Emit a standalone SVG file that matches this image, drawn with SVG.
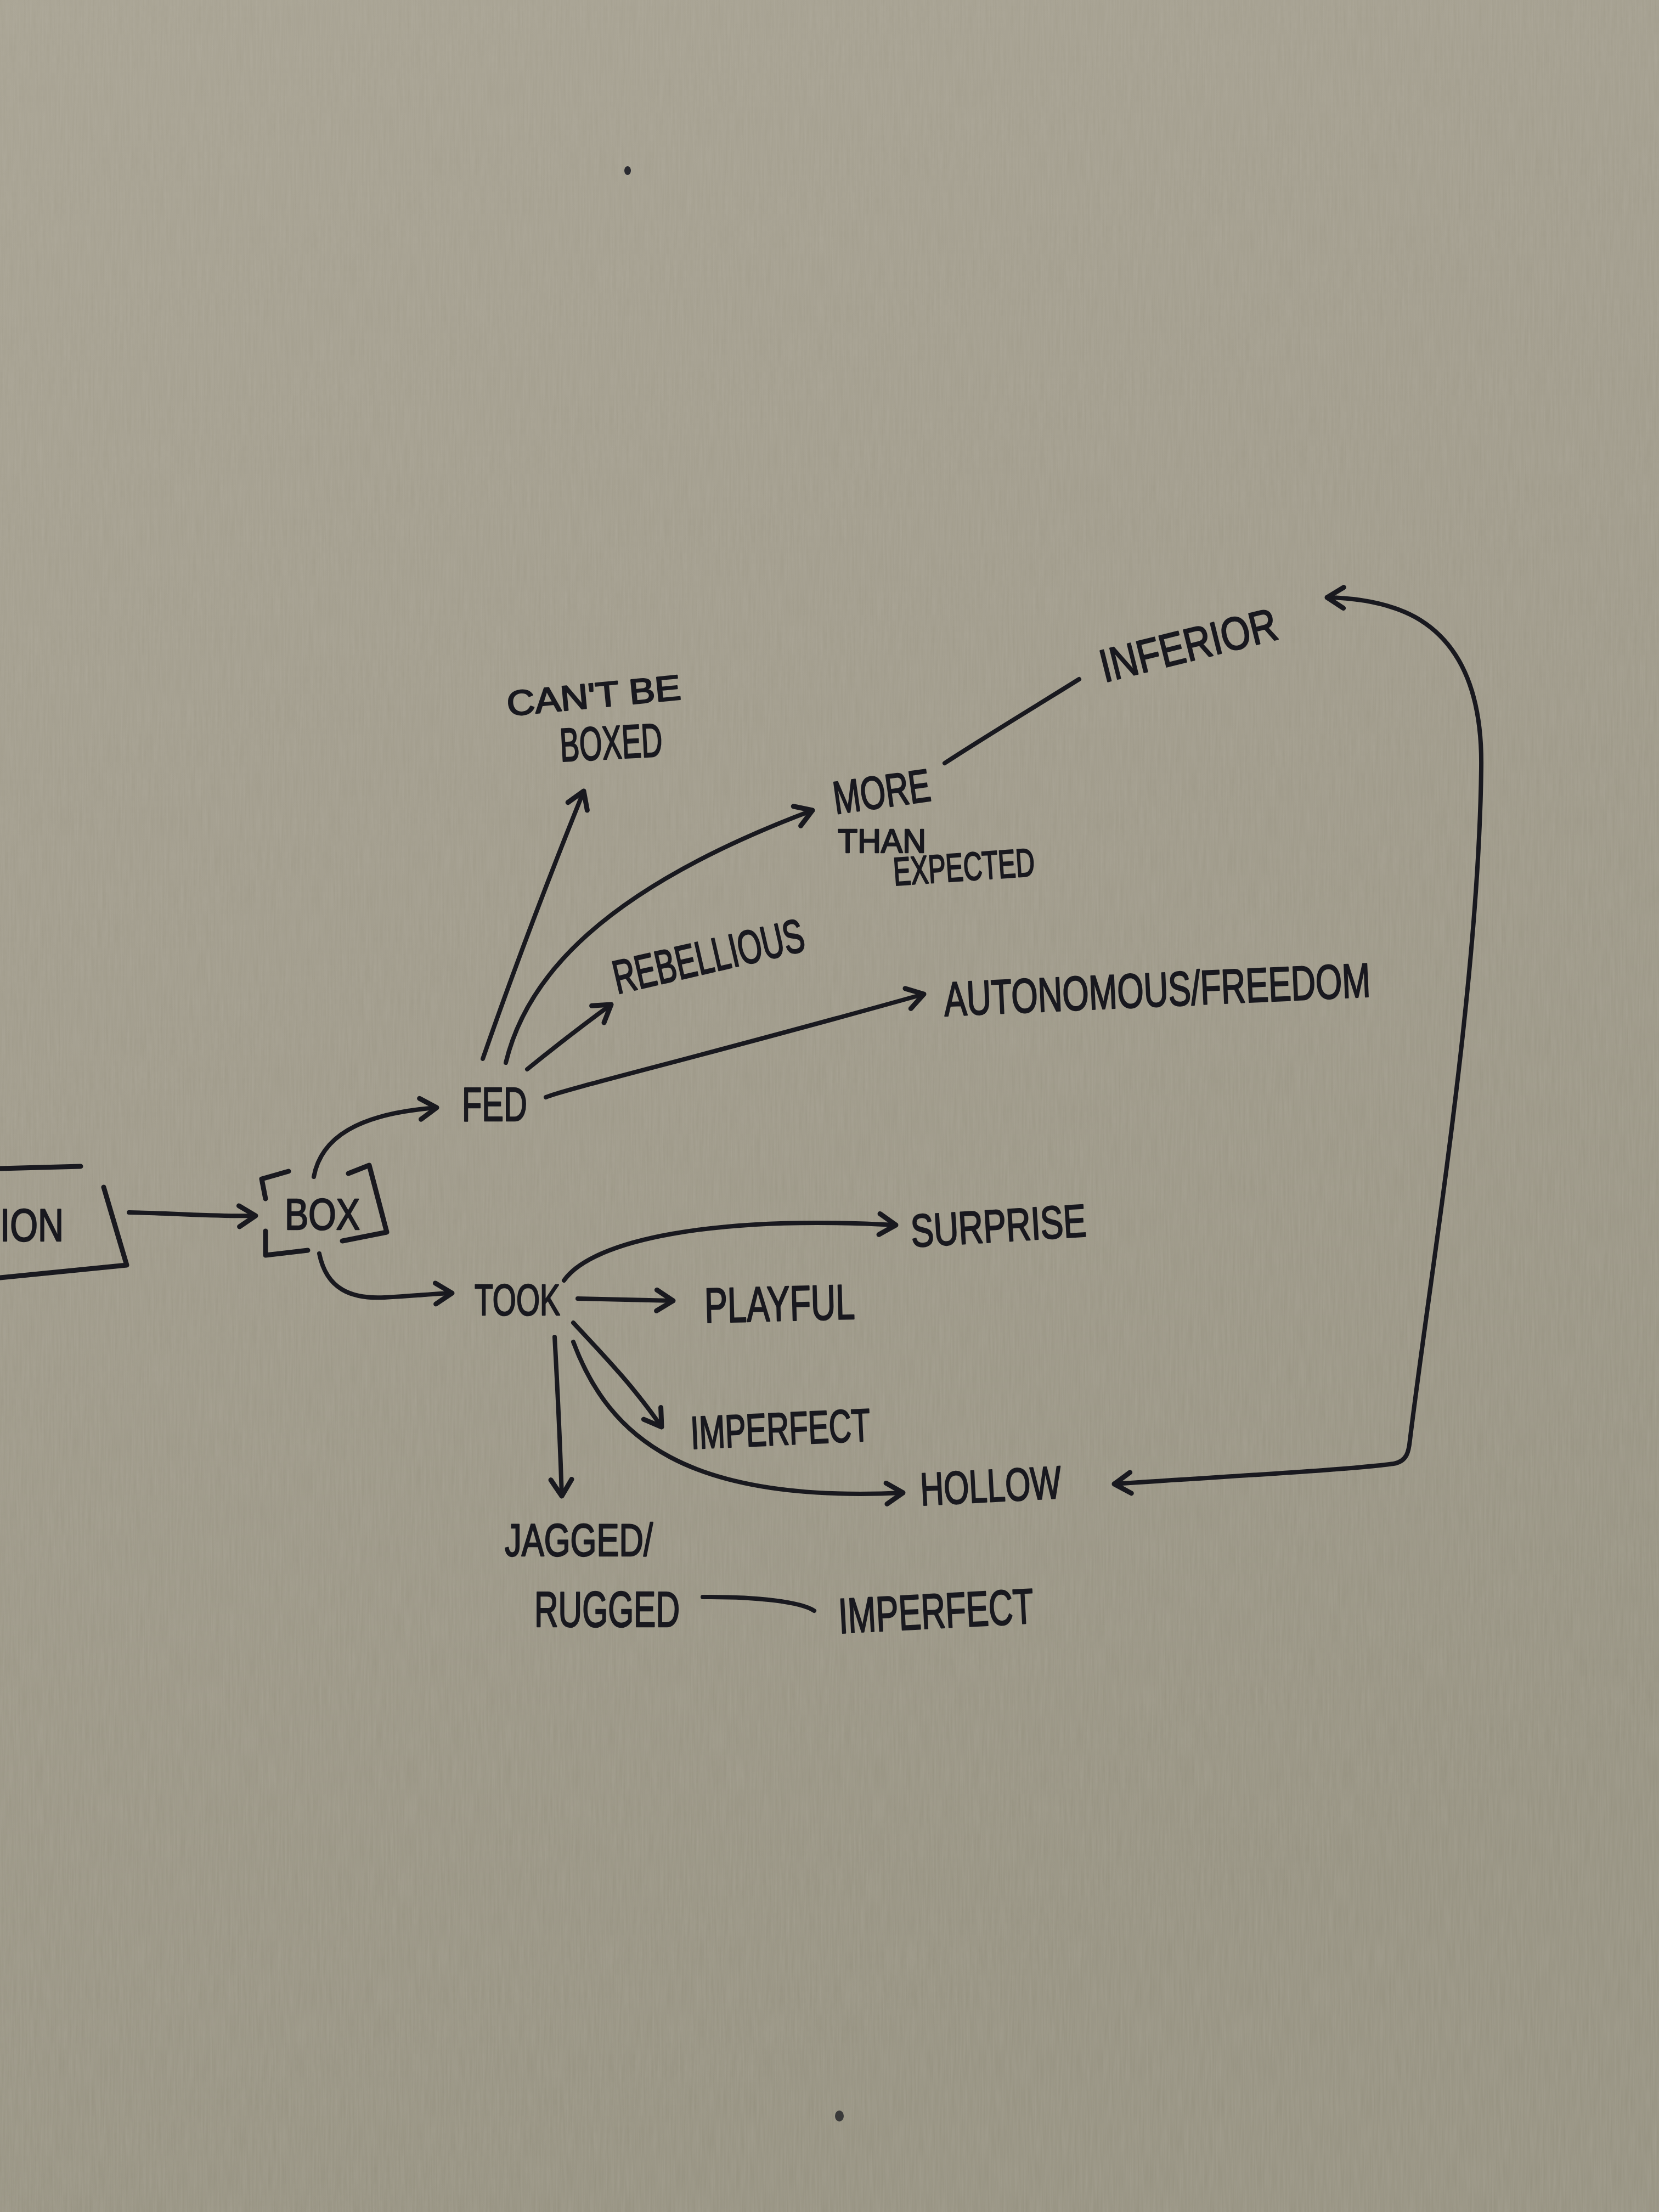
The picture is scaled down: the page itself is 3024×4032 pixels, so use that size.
<svg xmlns="http://www.w3.org/2000/svg" width="3024" height="4032" viewBox="0 0 3024 4032">
  <defs>
    <linearGradient id="paper" x1="0" y1="0" x2="0.3" y2="1">
      <stop offset="0" stop-color="#a8a393"/>
      <stop offset="0.5" stop-color="#a09b8b"/>
      <stop offset="1" stop-color="#979382"/>
    </linearGradient>
    <filter id="grain" x="0" y="0" width="100%" height="100%">
      <feTurbulence type="fractalNoise" baseFrequency="0.3 0.015" numOctaves="2" seed="7"/>
      <feColorMatrix type="matrix" values="0 0 0 0 0.56  0 0 0 0 0.53  0 0 0 0 0.47  0 0 0 -1.2 1.1"/>
    </filter>
    <marker id="ah" viewBox="-40 -30 50 60" refX="0" refY="0" markerWidth="50" markerHeight="60" markerUnits="userSpaceOnUse" orient="auto-start-reverse" overflow="visible">
      <path d="M-30,-19 L0,0 L-30,19" fill="none" stroke="#19191f" stroke-width="9" stroke-linecap="round" stroke-linejoin="round"/>
    </marker>
    <style>
      .t { font-family: "Liberation Sans", Arial, sans-serif; fill: #19191f; stroke: #19191f; stroke-width: 2.5; stroke-linejoin: round; }
      .c { fill: none; stroke: #19191f; stroke-width: 8; stroke-linecap: round; stroke-linejoin: round; }
      .a { marker-end: url(#ah); }
      .ink { fill: none; stroke: #19191f; stroke-width: 9; stroke-linecap: round; stroke-linejoin: round; }
    </style>
  </defs>

  <rect width="3024" height="4032" fill="url(#paper)"/>
  <rect width="3024" height="4032" filter="url(#grain)" opacity="0.2"/>
  <ellipse cx="1144" cy="311" rx="6" ry="8" fill="#2a2a30"/>
  <ellipse cx="1530" cy="3857" rx="8" ry="10" fill="#3a3a3a"/>

  <g id="connectors">
    <path class="c a" d="M235,2210 C330,2212 400,2218 466,2216"/>
    <path class="c a" d="M572,2145 C585,2075 650,2030 796,2019"/>
    <path class="c a" d="M582,2285 C595,2350 640,2368 701,2365 C760,2362 790,2358 824,2357"/>
    <path class="c a" d="M880,1930 Q960,1700 1064,1442"/>
    <path class="c a" d="M922,1937 C960,1780 1100,1620 1481,1477"/>
    <path class="c a" d="M961,1949 Q1040,1885 1114,1831"/>
    <path class="c a" d="M995,2000 C1030,1985 1300,1920 1684,1812"/>
    <path class="c" d="M1722,1391 C1800,1340 1900,1280 1967,1238"/>
    <path class="c a" d="M1028,2334 C1080,2260 1300,2215 1633,2233"/>
    <path class="c a" d="M1053,2367 L1227,2371"/>
    <path class="c a" d="M1045,2411 C1090,2460 1150,2520 1206,2601"/>
    <path class="c a" d="M1045,2446 C1110,2620 1250,2740 1646,2721"/>
    <path class="c a" d="M1011,2437 Q1020,2600 1024,2727"/>
    <path class="c" d="M1281,2911 C1380,2910 1460,2920 1484,2936"/>
    <path class="c a" marker-start="url(#ah)" d="M2031,2705 C2250,2690 2450,2680 2540,2668 C2565,2664 2568,2645 2570,2625 C2610,2300 2695,1800 2700,1400 C2702,1260 2660,1170 2580,1125 C2530,1098 2470,1090 2419,1089"/>
  </g>

  <g id="node-ion">
    <path class="ink" d="M0,2130 L147,2126 M189,2164 L231,2306 L0,2329"/>
    <text class="t" x="0" y="2262" font-size="84" textLength="116" lengthAdjust="spacingAndGlyphs">ION</text>
  </g>
  <g id="node-box">
    <path class="ink" d="M526,2135 L477,2149 L484,2185 M484,2244 L484,2288 L561,2279 M635,2139 L673,2124 L705,2246 L624,2262"/>
    <text class="t" x="519" y="2241" font-size="80" textLength="137" lengthAdjust="spacingAndGlyphs">BOX</text>
  </g>
  <g id="node-fed">
    <text class="t" x="842" y="2043" font-size="88" textLength="119" lengthAdjust="spacingAndGlyphs">FED</text>
  </g>
  <g id="node-took">
    <text class="t" x="865" y="2397" font-size="80" textLength="156" lengthAdjust="spacingAndGlyphs">TOOK</text>
  </g>
  <g id="node-cant-be-boxed">
    <text class="t" x="926" y="1305" font-size="64" textLength="318" lengthAdjust="spacingAndGlyphs" transform="rotate(-5.5 926 1305)">CAN'T BE</text>
    <text class="t" x="1022" y="1388" font-size="86" textLength="187" lengthAdjust="spacingAndGlyphs" transform="rotate(-3 1022 1388)">BOXED</text>
  </g>
  <g id="node-more-than-expected">
    <text class="t" x="1523" y="1484" font-size="84" textLength="178" lengthAdjust="spacingAndGlyphs" transform="rotate(-8 1523 1484)">MORE</text>
    <text class="t" x="1527" y="1554" font-size="62" textLength="161" lengthAdjust="spacingAndGlyphs">THAN</text>
    <text class="t" x="1630" y="1614" font-size="72" textLength="258" lengthAdjust="spacingAndGlyphs" transform="rotate(-4 1630 1614)">EXPECTED</text>
  </g>
  <g id="node-inferior">
    <text class="t" x="2013" y="1244" font-size="84" textLength="330" lengthAdjust="spacingAndGlyphs" transform="rotate(-14 2013 1244)">INFERIOR</text>
  </g>
  <g id="node-rebellious">
    <text class="t" x="1125" y="1812" font-size="86" textLength="355" lengthAdjust="spacingAndGlyphs" transform="rotate(-13 1125 1812)">REBELLIOUS</text>
  </g>
  <g id="node-autonomous">
    <text class="t" x="1722" y="1852" font-size="88" textLength="778" lengthAdjust="spacingAndGlyphs" transform="rotate(-2.6 1722 1852)">AUTONOMOUS/FREEDOM</text>
  </g>
  <g id="node-surprise">
    <text class="t" x="1662" y="2273" font-size="84" textLength="320" lengthAdjust="spacingAndGlyphs" transform="rotate(-3.5 1662 2273)">SURPRISE</text>
  </g>
  <g id="node-playful">
    <text class="t" x="1285" y="2411" font-size="90" textLength="274" lengthAdjust="spacingAndGlyphs" transform="rotate(-1.5 1285 2411)">PLAYFUL</text>
  </g>
  <g id="node-imperfect-1">
    <text class="t" x="1260" y="2641" font-size="84" textLength="328" lengthAdjust="spacingAndGlyphs" transform="rotate(-2.6 1260 2641)">IMPERFECT</text>
  </g>
  <g id="node-hollow">
    <text class="t" x="1679" y="2744" font-size="84" textLength="257" lengthAdjust="spacingAndGlyphs" transform="rotate(-3 1679 2744)">HOLLOW</text>
  </g>
  <g id="node-jagged-rugged">
    <text class="t" x="920" y="2836" font-size="84" textLength="270" lengthAdjust="spacingAndGlyphs">JAGGED/</text>
    <text class="t" x="974" y="2965" font-size="90" textLength="265" lengthAdjust="spacingAndGlyphs">RUGGED</text>
  </g>
  <g id="node-imperfect-2">
    <text class="t" x="1530" y="2977" font-size="90" textLength="356" lengthAdjust="spacingAndGlyphs" transform="rotate(-3 1530 2977)">IMPERFECT</text>
  </g>
</svg>
